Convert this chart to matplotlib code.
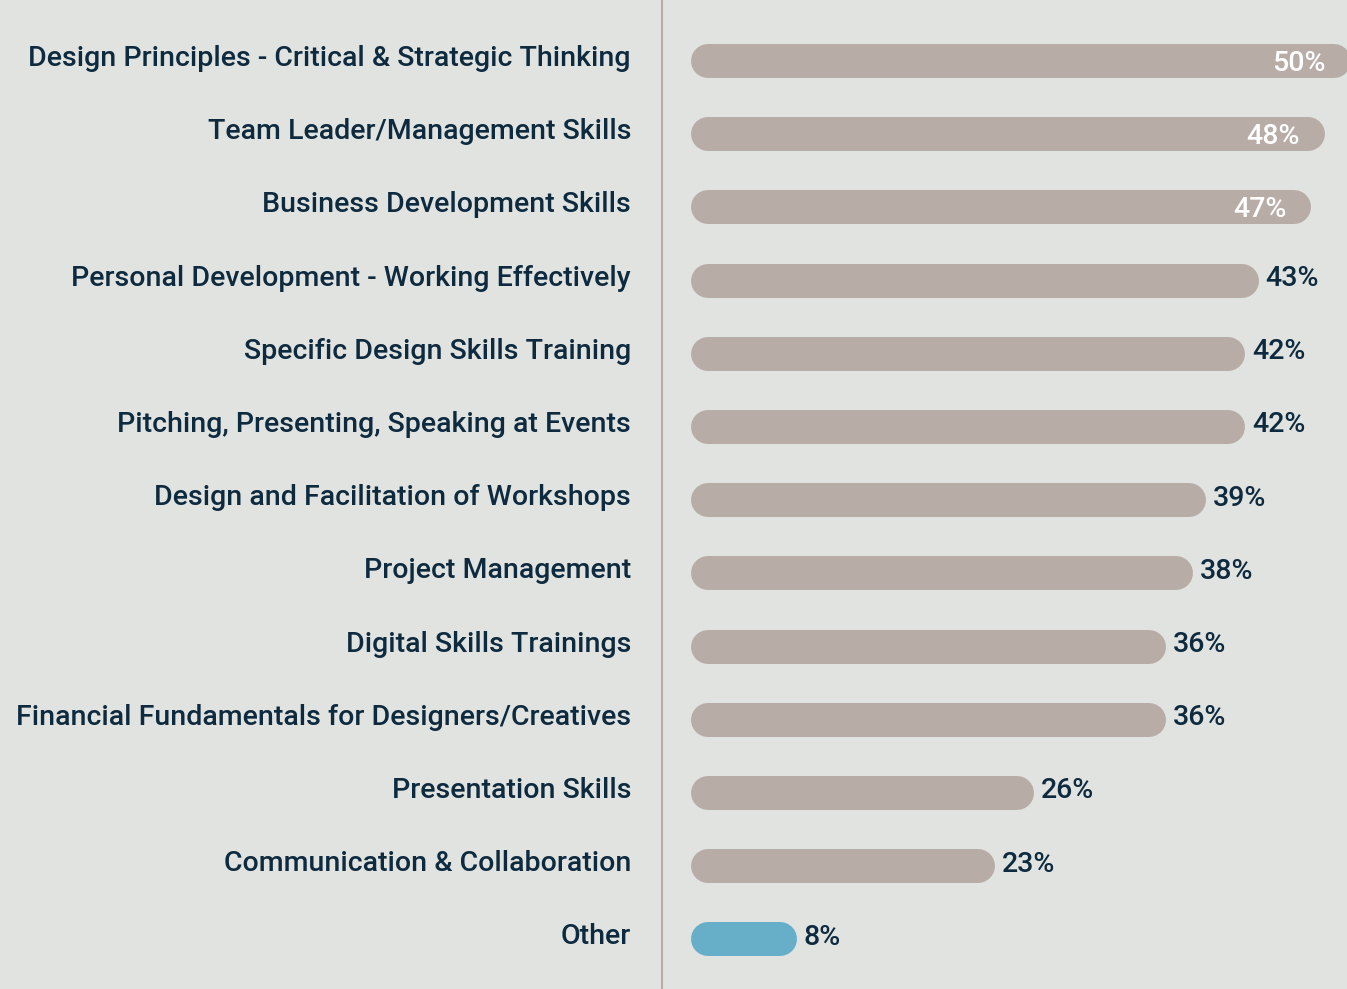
import matplotlib.pyplot as plt
from matplotlib.lines import Line2D

categories = [
    "Design Principles - Critical & Strategic Thinking",
    "Team Leader/Management Skills",
    "Business Development Skills",
    "Personal Development - Working Effectively",
    "Specific Design Skills Training",
    "Pitching, Presenting, Speaking at Events",
    "Design and Facilitation of Workshops",
    "Project Management",
    "Digital Skills Trainings",
    "Financial Fundamentals for Designers/Creatives",
    "Presentation Skills",
    "Communication & Collaboration",
    "Other",
]
values = [50, 48, 47, 43, 42, 42, 39, 38, 36, 36, 26, 23, 8]
inside_labels = [True, True, True] + [False] * 10

bg = "#E1E3E0"
bar_col = "#B8ACA6"
other_col = "#67AFC8"
text_col = "#0E2A3F"

W, H = 1347, 989
fig = plt.figure(figsize=(W / 100, H / 100), dpi=100, facecolor=bg)

x0_px, px_per_pct = 691, 13.2
row_px, first_row_px = 73.2, 61
ax = fig.add_axes([x0_px / W, 0, (W - x0_px) / W, 1])
ax.set_facecolor(bg)
ax.set_xlim(0, (W - x0_px) / px_per_pct)
ax.set_ylim((H - first_row_px) / row_px, -first_row_px / row_px)
ax.axis("off")

bar_px = 34
px_y = 1 / row_px  # one pixel in y data units
px_x = 1 / px_per_pct
r = bar_px / 2 * px_x  # cap radius in x data units

font = dict(family="Roboto", fontweight="medium")

for i, (cat, v, inside) in enumerate(zip(categories, values, inside_labels)):
    col = other_col if cat == "Other" else bar_col
    width = max(v, 2 * r)
    # pill-shaped bar: thick line with round caps, spanning 0..value
    ax.plot([r, width - r], [i, i], color=col, lw=bar_px * 0.72,
            solid_capstyle="round", clip_on=False)
    if inside:
        ax.text(v - 25 * px_x, i + 10 * px_y, f"{v}%", ha="right", va="baseline",
                color="white", fontsize=20.5, **font)
    else:
        ax.text(width + 7 * px_x, i + 5.5 * px_y, f"{v}%", ha="left", va="baseline",
                color=text_col, fontsize=20.5, **font)
    ax.text(-60 * px_x, i + 5 * px_y, cat, ha="right", va="baseline",
            color=text_col, fontsize=20.5, clip_on=False, **font)

fig.add_artist(Line2D([662 / W, 662 / W], [0, 1], color="#B8ACA6", lw=1.5,
                      transform=fig.transFigure))

fig.savefig("out.png", dpi=100, facecolor=bg)
